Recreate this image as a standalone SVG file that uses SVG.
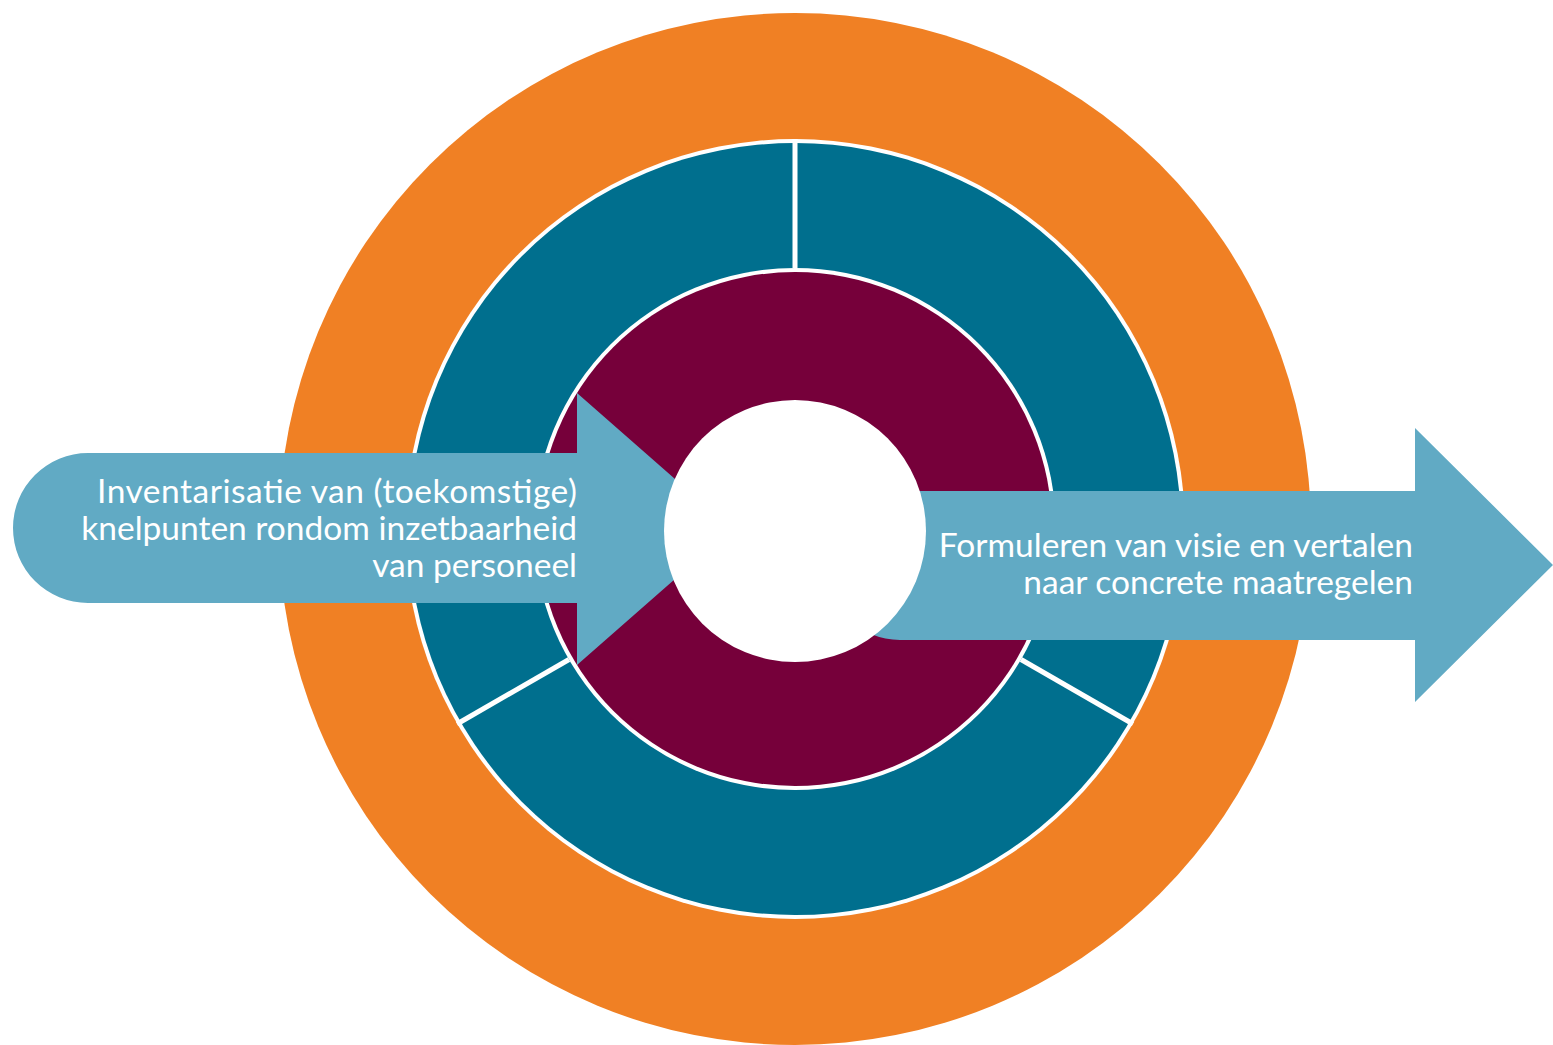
<svg xmlns="http://www.w3.org/2000/svg" width="1553" height="1045" viewBox="0 0 1553 1045">
<style>
.lbl{font-family:Lato,"Open Sans","Liberation Sans",sans-serif;font-size:33.5px;fill:#ffffff;text-anchor:end}
.arrow{fill:#61AAC4}
.div{stroke:#ffffff;stroke-width:5}
</style>
<rect width="1553" height="1045" fill="#ffffff"/>
<g id="rings">
<circle cx="795" cy="529" r="516" fill="#F08024"/>
<circle cx="795" cy="529" r="390" fill="#ffffff"/>
<circle cx="795" cy="529" r="386" fill="#006F8E"/>
<circle cx="795" cy="529" r="261" fill="#ffffff"/>
<circle cx="795" cy="529" r="257" fill="#76003A"/>
</g>
<g id="dividers">
<line class="div" x1="795" y1="268" x2="795" y2="139"/>
<line class="div" x1="569" y1="659.5" x2="457" y2="724"/>
<line class="div" x1="1021" y1="659.5" x2="1133" y2="724"/>
</g>
<g id="connectors">
<g id="arrow-left">
<path class="arrow" d="M88,453 H577 V393 L732,529 L577,665 V603 H88 A75,75 0 0 1 88,453 Z"/>
</g>
<g id="arrow-right">
<path class="arrow" d="M900,491 H1415 V428 L1553,565 L1415,702 V640 H900 A74,74 0 0 1 900,491 Z"/>
</g>
</g>
<g id="center">
<circle cx="795" cy="531" r="131" fill="#ffffff"/>
</g>
<g id="label-left">
<text class="lbl" x="577" y="503" textLength="480" lengthAdjust="spacing">Inventarisatie van (toekomstige)</text>
<text class="lbl" x="577" y="540">knelpunten rondom inzetbaarheid</text>
<text class="lbl" x="577" y="577">van personeel</text>
</g>
<g id="label-right">
<text class="lbl" x="1413" y="557">Formuleren van visie en vertalen</text>
<text class="lbl" x="1413" y="594">naar concrete maatregelen</text>
</g>
</svg>
